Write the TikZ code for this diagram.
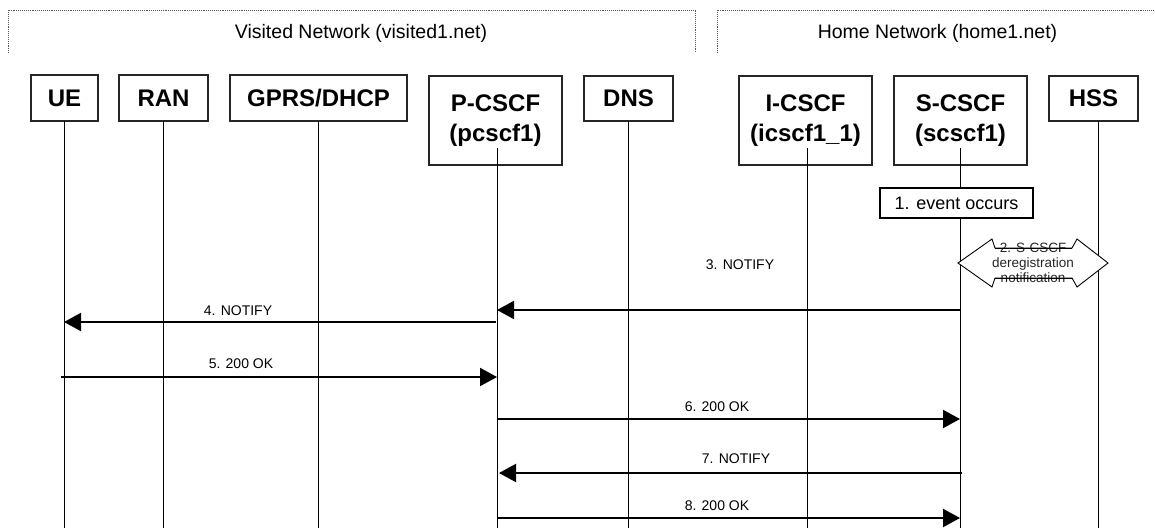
\documentclass[tikz,border=0pt]{standalone}
\usepackage{fontspec}
\setmainfont{Liberation Sans}
\usetikzlibrary{arrows.meta}
\begin{document}
\begin{tikzpicture}[x=1pt,y=-1pt,
  entity/.style={draw=black!85,line width=1.2pt,fill=white,inner sep=0pt,align=center,
    font=\fontsize{24}{30}\selectfont\bfseries},
  frameline/.style={draw=black!65,line width=0.9pt,densely dotted},
  lifeline/.style={draw=black,line width=1pt},
  msg/.style={draw=black,line width=2pt,-{Triangle[length=17pt,width=18pt]}},
  msglabel/.style={font=\fontsize{14}{16}\selectfont,inner sep=0pt},
  eventbox/.style={draw=black,line width=2.5pt,fill=white,inner sep=0pt,
    minimum width=153pt,minimum height=30pt,font=\fontsize{18}{20}\selectfont},
  header/.style={font=\fontsize{19.5}{22}\selectfont,inner sep=0pt}]
\useasboundingbox (0,0) rectangle (1155,530);

% network frames
\draw[frameline] (8,53) -- (8,10) -- (695,10) -- (695,53);
\draw[frameline] (717,53) -- (717,10) -- (1155,10);
\node[header] (visited) at (361,33) {Visited Network (visited1.net)};
\node[header] (home) at (937.5,33) {Home Network (home1.net)};

% entities
\node[entity,minimum width=67pt,minimum height=46pt] (ue) at (64.5,98) {UE};
\node[entity,minimum width=89pt,minimum height=46pt] (ran) at (163.5,98) {RAN};
\node[entity,minimum width=177pt,minimum height=46pt] (gprs) at (318.5,98) {GPRS/DHCP};
\node[entity,minimum width=133pt,minimum height=89pt] (pcscf) at (495.5,120.5) {P-CSCF\\(pcscf1)};
\node[entity,minimum width=89pt,minimum height=45pt] (dns) at (628.5,98.5) {DNS};
\node[entity,minimum width=133pt,minimum height=89pt] (icscf) at (805.5,120.5) {I-CSCF\\(icscf1\_1)};
\node[entity,minimum width=133pt,minimum height=89pt] (scscf) at (960.5,120.5) {S-CSCF\\(scscf1)};
\node[entity,minimum width=89pt,minimum height=45pt] (hss) at (1093.5,98.5) {HSS};

% lifeline ends
\coordinate (ueT) at (64,121);   \coordinate (ueB) at (64,528);
\coordinate (ranT) at (163,121); \coordinate (ranB) at (163,528);
\coordinate (gpT) at (318,121);  \coordinate (gpB) at (318,528);
\coordinate (pcT) at (497,148);  \coordinate (pcB) at (497,528);
\coordinate (dnT) at (628,121);  \coordinate (dnB) at (628,528);
\coordinate (icT) at (807,148);  \coordinate (icB) at (807,528);
\coordinate (scT) at (960,148);  \coordinate (scB) at (960,528);
\coordinate (hsT) at (1098,121); \coordinate (hsB) at (1098,528);
\foreach \l in {ue,ran,gp,pc,dn,ic,sc,hs} {\draw[lifeline] (\l T) -- (\l B);}

% 1. event
\node[eventbox] (event) at (956.5,203) {1. event occurs};

% 2. double arrow shape
\draw[draw=black,line width=0.9pt,fill=white]
  (958,263) -- (992,239) -- (995,248) -- (1072,248) -- (1077,239) -- (1108,263)
  -- (1077,287) -- (1072,278) -- (995,278) -- (992,287) -- cycle;
\node[align=center,inner sep=0pt,font=\fontsize{13.5}{15}\selectfont,text=black!85] (dereg) at (1033,263)
  {2. S-CSCF\\deregistration\\notification};
\draw[line width=0.9pt] (995,248) -- (1072,248);
\draw[line width=0.9pt] (995,278) -- (1072,278);

% message rows
\coordinate (r3) at (0,310);
\coordinate (r4) at (0,322);
\coordinate (r5) at (0,377);
\coordinate (r6) at (0,419);
\coordinate (r7) at (0,473);
\coordinate (r8) at (0,518);

\draw[msg] (scB |- r3) -- (pcB |- r3);
\node[msglabel] (l3) at (740,265) {3. NOTIFY};
\draw[msg] ([xshift=-1pt]pcB |- r4) -- (ueB |- r4);
\node[msglabel] (l4) at (238,311) {4. NOTIFY};
\draw[msg] ([xshift=-3pt]ueB |- r5) -- (pcB |- r5);
\node[msglabel] (l5) at (241,364) {5. 200 OK};
\draw[msg] (pcB |- r6) -- (scB |- r6);
\node[msglabel] (l6) at (717,407) {6. 200 OK};
\draw[msg] ([xshift=2pt]scB |- r7) -- ([xshift=2pt]pcB |- r7);
\node[msglabel] (l7) at (736,459) {7. NOTIFY};
\draw[msg] ([xshift=1pt]pcB |- r8) -- (scB |- r8);
\node[msglabel] (l8) at (717,506) {8. 200 OK};
\end{tikzpicture}
\end{document}
